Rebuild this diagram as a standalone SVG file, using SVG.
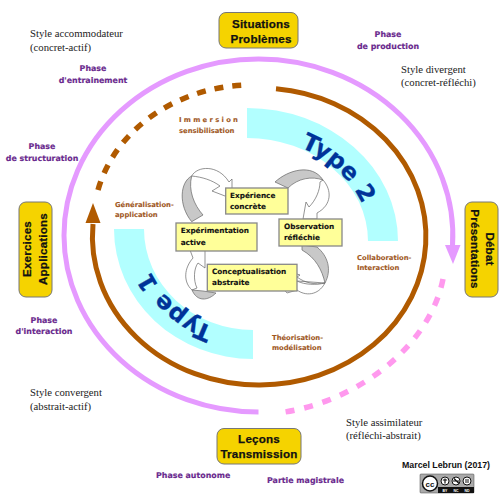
<svg xmlns="http://www.w3.org/2000/svg" width="500" height="500" viewBox="0 0 500 500">
<style>
.style{font:10.700px "Liberation Serif",serif;fill:#222}
.phase{font:bold 7.900px "DejaVu Sans",sans-serif;fill:#6a2a8e;text-anchor:middle;stroke:#6a2a8e;stroke-width:.15}
.phs{font:bold 7.900px "DejaVu Sans",sans-serif;fill:#6a2a8e;stroke:#6a2a8e;stroke-width:.15}
.lbl{font:bold 6.800px "DejaVu Sans",sans-serif;fill:#a0581e;stroke:#a0581e;stroke-width:.1}
.box{fill:#ffff99;stroke:#888;stroke-width:1.300}
.boxt{font:bold 7.300px "DejaVu Sans",sans-serif;fill:#111;stroke:#111;stroke-width:.12}
.big{fill:#f5d300;stroke:#777;stroke-width:1}
.bigt{font:bold 11.600px "Liberation Sans",sans-serif;fill:#111;text-anchor:middle;letter-spacing:.2px;stroke:#111;stroke-width:.25}
.arr{fill:#fff;stroke:#666;stroke-width:.7}
.band{fill:#c8c8c8;stroke:#666;stroke-width:.7}
.type{font:bold 23.500px "DejaVu Sans",sans-serif;fill:#003399;stroke:#003399;stroke-width:.3;text-anchor:middle}
.ln{fill:none}
</style>
<defs>
<path id="t2" d="M247 137A124 106 0 0 1 371 243"/>
<path id="t1" d="M253 334A112 105 0 0 1 141 229"/>
</defs>
<g id="bands">
<path d="M247 108A151 133 0 0 1 398 241H368A121 103 0 0 0 247 138Z" fill="#b2ffff"/>
<path d="M253 359A139 130 0 0 1 114 229H144A109 101 0 0 0 253 330Z" fill="#b2ffff"/>
<text class="type"><textPath href="#t2" startOffset="54%">Type 2</textPath></text>
<text class="type"><textPath href="#t1" startOffset="49%">Type 1</textPath></text>
</g>
<g id="connectors">
<path class="ln" d="M258.500 412A194.500 176.500 0 0 1 64 235.500A194.500 176.500 0 0 1 258.500 59A194.500 176.500 0 0 1 452.500 246" stroke="#e59aff" stroke-width="5"/>
<path d="M445 245H460.500L453 264Z" fill="#e59aff"/>
<path class="ln" d="M443 279C430 345 360 400 285 412" stroke="#ff99ee" stroke-width="5.500" stroke-dasharray="9 10"/>
<path class="ln" d="M276 88.700A166 148.500 0 0 1 259 385A166 148.500 0 0 1 93 224" stroke="#b05a00" stroke-width="5"/>
<path d="M85.500 223H100.500L93 203Z" fill="#b05a00"/>
<path class="ln" d="M98 190C115 130 175 88 245 85" stroke="#b05a00" stroke-width="5.500" stroke-dasharray="9 9"/>
<path class="arr" d="M191.700 176C197 166 218 164 229 182L232 179L232 190L225 196L212 191L220 186C212 180 202 177 191.700 176Z"/>
<path class="band" d="M191.700 176C180 182 178 205 191.700 221.700L203 215C194 205 188 190 191.700 176Z"/>
<path class="arr" d="M323 180C332 190 332 205 317 213L317 219L303 219L306 202L309 207C316 200 320 190 320 182Z"/>
<path class="band" d="M275 182C288 170 312 163 323 180C312 176 298 178 288 188Z"/>
<path class="arr" d="M325 283C318 296 305 296 297 290L287 293L280 285L297 281C305 285 316 285 325 283Z"/>
<path class="arr" d="M325 283C315 285 305 283 297 277L300 275L285 270L290 285L297 281Z"/>
<path class="band" d="M302 245L317 247C328 256 332 270 325 283C322 270 316 258 302 250Z"/>
<path class="arr" d="M190 250L193 258C184 268 183 282 192 290L197 288C193 280 194 268 198 263L205 268L205 250Z"/>
<path class="band" d="M192 290C197 302 208 301 216 293L203 291Z"/>
</g>
<g id="experience"><rect class="box" x="225.700" y="188" width="62.300" height="26"/><text class="boxt" x="230" y="197.500">Expérience</text><text class="boxt" x="230" y="208.700">concrète</text></g>
<g id="experimentation"><rect class="box" x="176" y="223" width="81" height="28"/><text class="boxt" x="180.700" y="232.500">Expérimentation</text><text class="boxt" x="180.700" y="244.500">active</text></g>
<g id="observation"><rect class="box" x="279" y="219" width="63" height="27"/><text class="boxt" x="284" y="229">Observation</text><text class="boxt" x="284" y="240">réfléchie</text></g>
<g id="conceptualisation"><rect class="box" x="207.300" y="264.300" width="89.700" height="26.700"/><text class="boxt" x="212" y="273.500">Conceptualisation</text><text class="boxt" x="212" y="284.700">abstraite</text></g>
<g id="situations"><rect class="big" x="219" y="12.500" width="79" height="35.500" rx="7"/><text class="bigt" x="261" y="28">Situations</text><text class="bigt" x="261" y="43">Problèmes</text></g>
<g id="lecons"><rect class="big" x="217" y="428.500" width="84" height="35.500" rx="7"/><text class="bigt" x="259" y="442.500">Leçons</text><text class="bigt" x="259" y="457.500">Transmission</text></g>
<g id="exercices"><rect class="big" x="19" y="202" width="33" height="95" rx="7"/><text class="bigt" transform="translate(31 249) rotate(-90)">Exercices</text><text class="bigt" transform="translate(47 249) rotate(-90)">Applications</text></g>
<g id="debat"><rect class="big" x="465" y="202" width="33" height="95" rx="7"/><text class="bigt" transform="translate(486 249) rotate(90)">Débat</text><text class="bigt" transform="translate(471 249) rotate(90)">Présentations</text></g>
<g id="labels">
<text class="style" x="30" y="37">Style accommodateur</text><text class="style" x="30" y="50.500">(concret-actif)</text>
<text class="style" x="401" y="73">Style divergent</text><text class="style" x="401" y="86">(concret-réfléchi)</text>
<text class="style" x="30" y="396">Style convergent</text><text class="style" x="30" y="410">(abstrait-actif)</text>
<text class="style" x="346" y="426">Style assimilateur</text><text class="style" x="346" y="439">(réfléchi-abstrait)</text>
<text class="phase" x="93" y="71">Phase</text><text class="phase" x="93" y="83">d'entrainement</text>
<text class="phase" x="42" y="149">Phase</text><text class="phase" x="42" y="161">de structuration</text>
<text class="phase" x="388" y="37">Phase</text><text class="phase" x="388" y="49">de production</text>
<text class="phase" x="44" y="323">Phase</text><text class="phase" x="44" y="334">d'interaction</text>
<text class="phs" x="156" y="478">Phase autonome</text><text class="phs" x="267" y="483">Partie magistrale</text>
<text class="lbl" x="179" y="122" letter-spacing="2.300">Immersion</text><text class="lbl" x="179" y="133">sensibilisation</text>
<text class="lbl" x="115" y="207">Généralisation-</text><text class="lbl" x="115" y="217">application</text>
<text class="lbl" x="357" y="260">Collaboration-</text><text class="lbl" x="357" y="270">Interaction</text>
<text class="lbl" x="272" y="340">Théorisation-</text><text class="lbl" x="272" y="350">modélisation</text>
<text x="402" y="468" style="font:bold 8.800px 'Liberation Sans',sans-serif;fill:#111">Marcel Lebrun (2017)</text>
</g>
<g id="cc-badge">
<rect x="420" y="474" width="54" height="19" rx="1" fill="#aaa" stroke="#444" stroke-width=".5"/>
<rect x="438" y="487" width="36" height="6" fill="#111"/>
<circle cx="430" cy="483.500" r="7.500" fill="#fff" stroke="#111" stroke-width="1.500"/>
<text x="430" y="486.500" text-anchor="middle" style="font:bold 8px 'Liberation Sans',sans-serif;fill:#111">cc</text>
<g fill="#fff" stroke="#111"><circle cx="445" cy="481" r="4"/><circle cx="456" cy="481" r="4"/><circle cx="467" cy="481" r="4"/></g>
<path d="M445 478.500V483.500M442.800 480H447.200" stroke="#111" stroke-width="1.200" fill="none"/>
<path d="M453 481H459M454 478.500L459 483.500" stroke="#111" stroke-width="1.200" fill="none"/>
<path d="M465 480H469M465 482H469" stroke="#111" stroke-width="1" fill="none"/>
<g style="font:bold 3.500px 'Liberation Sans',sans-serif;fill:#fff" text-anchor="middle"><text x="445" y="491.500">BY</text><text x="456" y="491.500">NC</text><text x="467" y="491.500">ND</text></g>
</g>
</svg>
